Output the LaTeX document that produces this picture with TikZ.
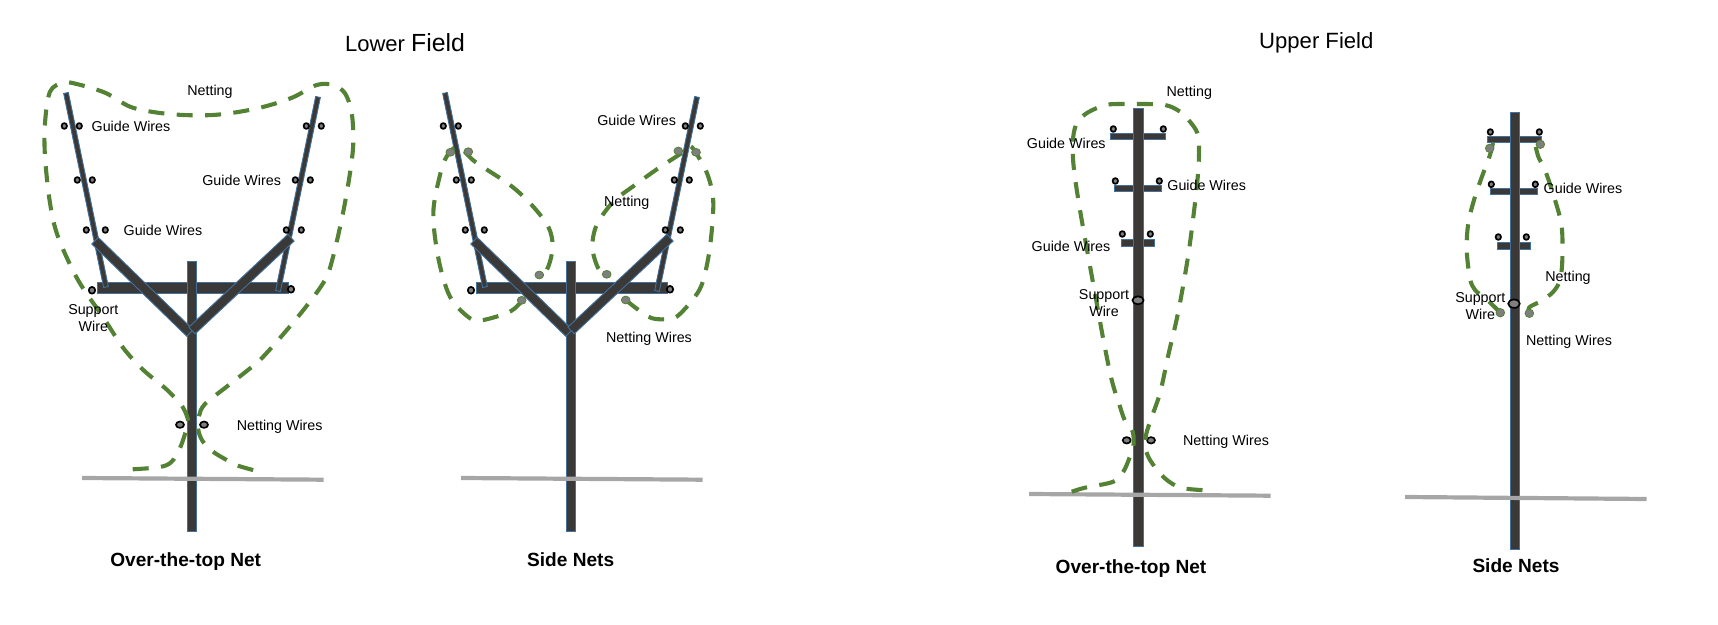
\documentclass[tikz,border=0pt]{standalone}
\usepackage{fontspec}
\setmainfont{Liberation Sans}
\usetikzlibrary{calc}
\definecolor{postdark}{HTML}{3B3838}
\definecolor{postedge}{HTML}{41719C}
\definecolor{netgreen}{HTML}{548235}
\definecolor{knobgray}{HTML}{7F7F7F}
\definecolor{groundgray}{HTML}{A6A6A6}
\tikzset{
  postbody/.style={fill=postdark,draw=postedge,line width=0.45pt,line join=miter},
  netline/.style={draw=netgreen,line width=2.05pt,line cap=butt,dash pattern=on 8pt off 6.2pt},
  knob/.style={fill=knobgray,draw=black,line width=0.85pt},
  netknob/.style={fill=knobgray,draw=netgreen,line width=0.4pt},
  ground/.style={draw=groundgray,line width=2.1pt,line cap=butt},
  wirelabel/.style={inner sep=0pt,align=center,text depth=0pt,font=\fontsize{7.15}{8.35}\selectfont},
  boldlabel/.style={inner sep=0pt,text depth=0pt,font=\fontsize{9.55}{12}\selectfont\bfseries}
}
\newcommand{\beam}[3]{\filldraw[postbody] ($(#1)!#3!90:(#2)$) -- ($(#1)!#3!-90:(#2)$) -- ($(#2)!#3!90:(#1)$) -- ($(#2)!#3!-90:(#1)$) -- cycle;}
\begin{document}
\begin{tikzpicture}[line cap=round,line join=round,x=0.5pt,y=-0.5pt]
  \useasboundingbox (0,0) rectangle (1718,625);
  % lower field
  \foreach \d in {0,379} {
    \begin{scope}[shift={(\d,0)}]
      \beam{97,287.5}{288,287.5}{2.75pt}
      \beam{192,261}{192,531}{2.45pt}
      \beam{66,93}{106,287}{1.2pt}
      \beam{318,97}{278,291}{1.2pt}
      \beam{95,240.7}{190,333}{2.3pt}
      \beam{291,237.7}{192,330.5}{2.3pt}
      \draw[ground] (82,478) -- (323.7,479.7);
      \foreach \x/\y in {64.3/126,79.3/126,77.3/180,92.3/180,86.3/230,105.3/230,306.3/126,321.3/126,295.3/180,310.3/180,286.3/230,301.3/230}
      \draw[knob] (\x,\y) ellipse (2.7 and 2.9);
      \foreach \x/\y in {92/290.3,291/289.3}
      \draw[knob] (\x,\y) ellipse (3.2 and 3.4);
    \end{scope}
  }
  \foreach \x in {180,204}
  \draw[knob] (\x,424.7) ellipse (4 and 3.2);
  \draw[netline] plot[smooth,tension=0.55] coordinates {(132.7,469.3) (160,467) (171.7,461.7) (180,448) (185.3,433) (188.3,421.7) (183.3,408) (175,398) (165,388) (143.3,370) (123.3,348) (103,317) (78,280) (58,236.7) (50,203) (45,156.7) (45,123) (50,91.7) (63,82.7) (76.7,84) (105,92.7) (130,106.7) (155,112.3) (183.3,115) (213,115) (240,111.7) (266.7,106) (293,97.3) (316.7,85) (333,85) (345,93.3) (351.7,113) (353.3,143) (350,173) (343,213) (333,257) (325,280) (305,308) (280,338) (260,360) (248,370) (226.7,386.7) (205,404) (199,416) (198.3,430) (203,441.7) (213,451.7) (226.7,460) (238,465.7) (264,473)};
  \draw[netline] plot[smooth,tension=0.55] coordinates {(521.7,301) (510,311.7) (483.3,320) (470,318.3) (450,296.7) (438.3,258) (433.3,213) (440,175) (447,156) (458.3,146.7) (475,161.7) (510,185) (531.7,205) (548.3,226.7) (552.7,246.7) (548.3,266.7) (541.7,276.7)};
  \draw[netline] plot[smooth,tension=0.55] coordinates {(625.7,300) (648.3,316.7) (663.3,319.3) (676.7,316.7) (695,296.7) (703.3,280) (710,246.7) (713.3,203) (708.3,176.7) (698.3,156.7) (690,146) (681.7,153) (658.3,168.3) (635,185) (613.3,201.7) (596.7,225) (592.3,246.7) (596.7,265) (603.3,276.7)};
  \foreach \x/\y in {450.3/152.3,468.3/151.7,539.3/275,521.7/300.3,678.3/151,696/152.3,606.7/274.3,625.7/300}
  \draw[netknob] (\x,\y) ellipse (4.4 and 3.9);
  % upper field
  \beam{1110.3,136.3}{1165.7,136.3}{1.5pt}
  \beam{1114.3,188.3}{1161.7,188.3}{1.5pt}
  \beam{1121.3,243}{1154.7,243}{1.8pt}
  \beam{1138.5,108.3}{1138.5,546.7}{2.55pt}
  \draw[ground] (1029,494) -- (1270.7,495.7);
  \foreach \x/\y in {1113.3/129,1163.3/129,1115.3/181,1159.3/181,1122.3/234,1150.3/234}
  \draw[knob] (\x,\y) ellipse (2.7 and 2.9);
  \draw[knob] (1138,300.3) ellipse (5.6 and 4);
  \foreach \x in {1126.7,1151}
  \draw[knob] (\x,440.3) ellipse (4 and 3.2);
  \draw[netline] plot[smooth,tension=0.55] coordinates {(1071.7,491.7) (1085,487.7) (1113.3,481.7) (1123.3,471.7) (1129.3,458.3) (1133.3,446.7) (1132.7,431.7) (1125,420.7) (1120,406.7) (1111.7,380) (1103.3,339.3) (1096.7,303) (1088.3,256.7) (1080,210) (1074,170) (1072.7,143) (1076,125) (1085,114.3) (1100,106.7) (1110,104.3) (1138.3,104) (1165,105) (1180,111.7) (1190,121.7) (1197.3,133) (1199,148.3) (1198.3,170) (1195,203) (1188,256.7) (1178,313) (1168.3,355) (1160,393) (1150,421.7) (1145.7,436.7) (1145.7,449) (1150,460) (1160,473.3) (1170,482.3) (1183.3,488.3) (1211.7,490.7)};
  \draw[netline] plot[smooth,tension=0.55] coordinates {(1529.3,313.3) (1529.3,307.3) (1541.7,300.7) (1553.3,291.7) (1560,280) (1562.3,260) (1561.7,226.7) (1555,200) (1545,170) (1538.3,156.7) (1535,143.3)};
  \draw[netline] plot[smooth,tension=0.55] coordinates {(1500.3,312.7) (1487.3,300) (1475,290) (1470,278.3) (1466.7,250) (1468.3,223.3) (1475,196.7) (1485,168.3) (1490,155) (1493.3,141.7)};
  \beam{1487.3,139.5}{1541.7,139.5}{1.5pt}
  \beam{1490.3,191.5}{1537.7,191.5}{1.5pt}
  \beam{1497.3,246}{1530.7,246}{1.8pt}
  \beam{1515,112.3}{1515,549.3}{2.4pt}
  \draw[ground] (1405,497) -- (1646.7,499);
  \foreach \x/\y in {1490.3/132,1539.3/132,1491.3/184.3,1535.3/184.3,1498.3/237,1526.3/237}
  \draw[knob] (\x,\y) ellipse (2.7 and 2.9);
  \draw[knob] (1514,303.7) ellipse (5.8 and 4.2);
  \foreach \x/\y in {1489.7/148.3,1540.3/144.3,1500.3/312.7,1529.3/313.3}
  \draw[netknob] (\x,\y) ellipse (4.3 and 4.2);
  % labels
  \node[inner sep=0pt,anchor=base] (lowerTitle) at (405,51.7) {\fontsize{11}{13}\selectfont Lower \fontsize{12.4}{13}\selectfont Field};
  \node[inner sep=0pt,anchor=base,font=\fontsize{11.05}{13}\selectfont] (upperTitle) at (1316.3,48.3) {Upper Field};
  \node[wirelabel] (netA) at (210,90.3) {Netting};
  \node[wirelabel] (guideA) at (131,126) {Guide Wires};
  \node[wirelabel] (guideB) at (241.7,180) {Guide Wires};
  \node[wirelabel] (guideC) at (163,230) {Guide Wires};
  \node[wirelabel] (supportA) at (93.3,317.7) {Support\\Wire};
  \node[wirelabel] (netWiresA) at (279.7,425) {Netting Wires};
  \node[boldlabel] (overA) at (185.7,559.3) {Over-the-top Net};
  \node[wirelabel] (guideD) at (636.7,120) {Guide Wires};
  \node[wirelabel] (netB) at (626.7,201) {Netting};
  \node[wirelabel] (netWiresB) at (649,337) {Netting Wires};
  \node[boldlabel] (sideA) at (570.7,559.3) {Side Nets};
  \node[wirelabel] (netC) at (1189.3,91.3) {Netting};
  \node[wirelabel] (guideE) at (1066.3,143) {Guide Wires};
  \node[wirelabel] (guideF) at (1206.7,185) {Guide Wires};
  \node[wirelabel] (guideG) at (1071,246) {Guide Wires};
  \node[wirelabel] (supportB) at (1104,302.7) {Support\\Wire};
  \node[wirelabel] (netWiresC) at (1226,440.3) {Netting Wires};
  \node[boldlabel] (overB) at (1131,566.3) {Over-the-top Net};
  \node[wirelabel] (guideH) at (1583,188.3) {Guide Wires};
  \node[wirelabel] (netD) at (1568,276.3) {Netting};
  \node[wirelabel] (supportC) at (1480.3,305.7) {Support\\Wire};
  \node[wirelabel] (netWiresD) at (1569,340) {Netting Wires};
  \node[boldlabel] (sideB) at (1516,566) {Side Nets};
\end{tikzpicture}
\end{document}
